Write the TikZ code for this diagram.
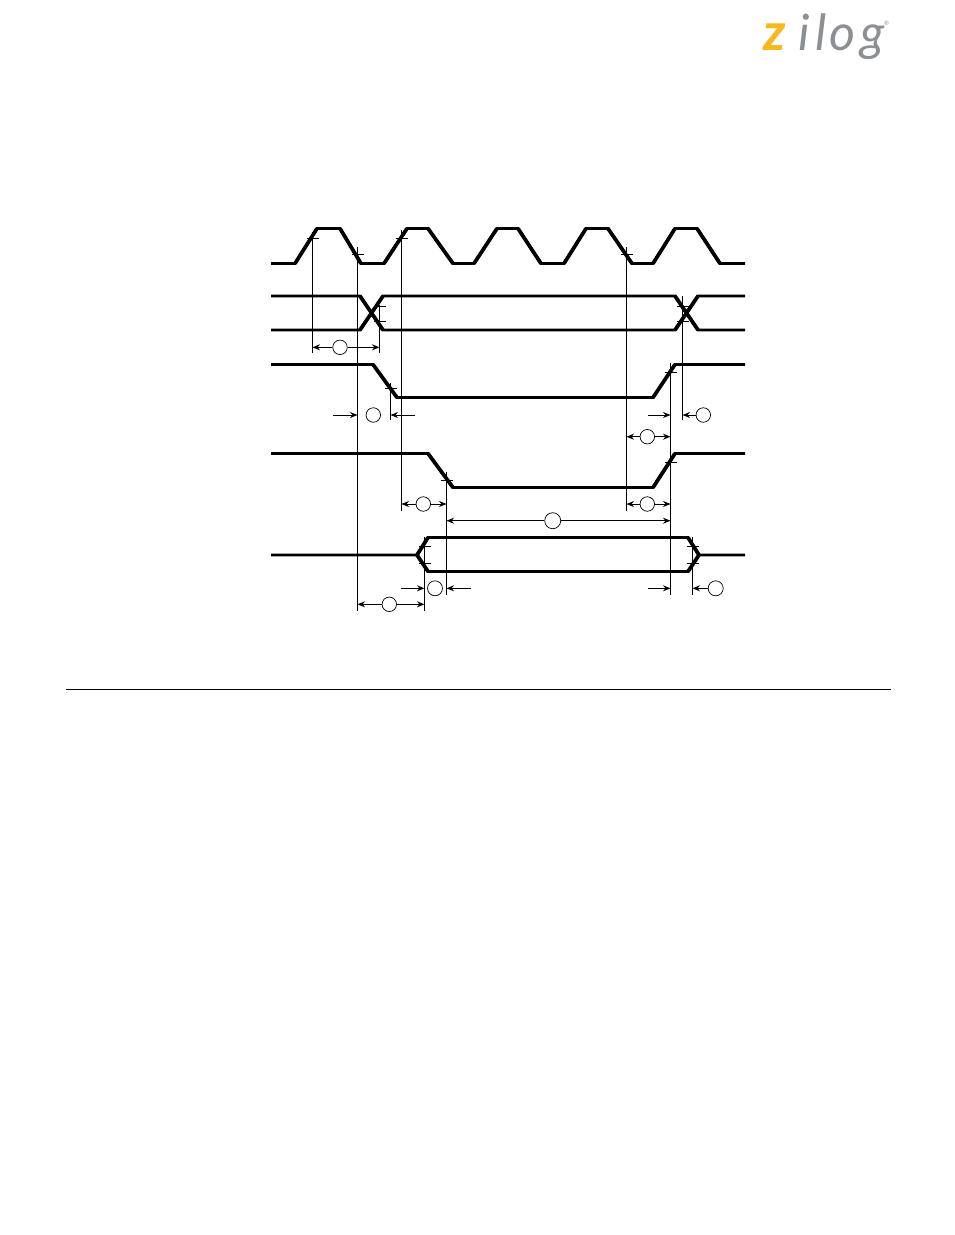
\documentclass[tikz,border=0pt]{standalone}
\usepackage{fontspec}
\setmainfont{Lato}
\usepackage{xcolor}
\usetikzlibrary{arrows.meta}
\definecolor{zilogyellow}{HTML}{F9B81E}
\definecolor{ziloggray}{HTML}{8C8F93}
\tikzset{
  wave/.style={line width=2.8pt,line join=miter},
  slope/.style={line width=3.7pt},
  guide/.style={line width=1.4pt},
  tickmark/.style={line width=1pt},
  dim/.style={line width=0.9pt,-{Stealth[length=7.5pt,width=6pt]}},
  num/.style={draw,circle,line width=0.7pt,inner sep=0pt,minimum size=14.5pt},
  logotext/.style={text=ziloggray,font=\fontsize{50}{50}\selectfont\itshape,inner sep=0pt,anchor=base}
}
\begin{document}
\begin{tikzpicture}[x=1pt,y=-1pt]
  \useasboundingbox (0,0) rectangle (954,1235);

  % logo
  \node[logotext,text=zilogyellow,font=\fontsize{52}{52}\selectfont\bfseries\itshape] (logoz) at (775,50) {z};
  \node[logotext] (logoi) at (804,50) {i};
  \node[logotext] (logol) at (821,50) {l};
  \node[logotext] (logoo) at (842,50) {o};
  \node[logotext] (logog) at (873,50) {g};
  \node[text=ziloggray,font=\fontsize{6}{6}\selectfont,inner sep=0pt] (logor) at (886.5,23) {\textregistered};

  % clock
  \draw[wave] (271,263.5) -- (295,263.5) -- (317,228.5) -- (340,228.5) -- (361,263.5)
    -- (384,263.5) -- (407,228.5) -- (428,228.5) -- (453,263.5)
    -- (474,263.5) -- (497,228.5) -- (518,228.5) -- (541,263.5)
    -- (564,263.5) -- (586,228.5) -- (608,228.5) -- (632,263.5)
    -- (653,263.5) -- (675,228.5) -- (697,228.5) -- (720,263.5) -- (745,263.5);
  \draw[slope] (295,263.5) -- (317,228.5) (340,228.5) -- (361,263.5)
    (384,263.5) -- (407,228.5) (428,228.5) -- (453,263.5)
    (474,263.5) -- (497,228.5) (518,228.5) -- (541,263.5)
    (564,263.5) -- (586,228.5) (608,228.5) -- (632,263.5)
    (653,263.5) -- (675,228.5) (697,228.5) -- (720,263.5);

  % bus
  \draw[wave] (271,296) -- (360,296) -- (383,330) -- (675,330) -- (698,296) -- (745,296);
  \draw[wave] (271,330) -- (360,330) -- (383,296) -- (675,296) -- (698,330) -- (745,330);
  \draw[slope] (360,296) -- (383,330) (360,330) -- (383,296)
    (675,330) -- (698,296) (675,296) -- (698,330);

  % strobes
  \draw[wave] (271,364.5) -- (373,364.5) -- (397,397.5) -- (653,397.5) -- (675,364.5) -- (745,364.5);
  \draw[wave] (271,453.5) -- (428,453.5) -- (453,487.5) -- (653,487.5) -- (675,453.5) -- (745,453.5);
  \draw[slope] (373,364.5) -- (397,397.5) (653,397.5) -- (675,364.5)
    (428,453.5) -- (453,487.5) (653,487.5) -- (675,453.5);

  % data
  \draw[wave] (271,555) -- (417,555) -- (428,537.5) -- (688,537.5) -- (699,555) -- (745,555);
  \draw[wave] (417,555) -- (428,571.5) -- (688,571.5) -- (699,555);
  \draw[slope] (417,555) -- (428,537.5) (688,537.5) -- (699,555)
    (417,555) -- (428,571.5) (688,571.5) -- (699,555);

  % guide lines
  \coordinate (ga) at (312.5,232);   \coordinate (gae) at (312.5,353);
  \coordinate (gb) at (357.5,247);   \coordinate (gbe) at (357.5,611);
  \coordinate (gc) at (401.5,230);   \coordinate (gce) at (401.5,511);
  \coordinate (gd) at (379.5,305);   \coordinate (gde) at (379.5,353);
  \coordinate (ge) at (390.5,383);   \coordinate (gee) at (390.5,420);
  \coordinate (gf) at (626.5,247);   \coordinate (gfe) at (626.5,511);
  \coordinate (gg) at (682.5,296);   \coordinate (gge) at (682.5,420);
  \coordinate (gh) at (670.5,363);   \coordinate (ghe) at (670.5,595);
  \coordinate (gi) at (446.5,472);   \coordinate (gie) at (446.5,595);
  \coordinate (gj) at (424.5,537);   \coordinate (gje) at (424.5,611);
  \coordinate (gk) at (692.5,537);   \coordinate (gke) at (692.5,595);
  \draw[guide] (ga) -- (gae);
  \draw[guide] (gb) -- (gbe);
  \draw[guide] (gc) -- (gce);
  \draw[guide] (gd) -- (gde);
  \draw[guide] (ge) -- (gee);
  \draw[guide] (gf) -- (gfe);
  \draw[guide] (gg) -- (gge);
  \draw[guide] (gh) -- (ghe);
  \draw[guide] (gi) -- (gie);
  \draw[guide] (gj) -- (gje);
  \draw[guide] (gk) -- (gke);

  % crossing marks
  \draw[tickmark] (306.5,238.5) -- ++(12,0) (351.5,254.5) -- ++(12,0) (395.5,238.5) -- ++(12,0)
    (373.5,306) -- ++(12,0) (373.5,321.5) -- ++(12,0) (384.5,388) -- ++(12,0)
    (620.5,254.5) -- ++(12,0) (676.5,306) -- ++(12,0) (676.5,321.5) -- ++(12,0)
    (664.5,372.5) -- ++(12,0) (440.5,480) -- ++(12,0) (664.5,462) -- ++(12,0)
    (418.5,546) -- ++(12,0) (418.5,563) -- ++(12,0) (686.5,546) -- ++(12,0) (686.5,563) -- ++(12,0);

  % numbered circles
  \node[num] (na) at (340,347.3) {};
  \node[num] (nb) at (373.3,415) {};
  \node[num] (nc) at (703.3,415) {};
  \node[num] (nd) at (647.3,436.7) {};
  \node[num] (ne) at (647.3,504) {};
  \node[num] (nf) at (423.3,504) {};
  \node[num,minimum size=16pt] (ng) at (552.7,520.7) {};
  \node[num,minimum size=15pt] (nh) at (435,588.3) {};
  \node[num,minimum size=15pt] (ni) at (715.7,588.3) {};
  \node[num] (nj) at (389.3,604.3) {};

  % dimension arrows
  \draw[dim] (na) -- (na -| ga);
  \draw[dim] (na) -- (na -| gd);
  \coordinate (bl) at (333,415);
  \coordinate (br) at (415,415);
  \draw[dim] (bl) -- (bl -| gb);
  \draw[dim] (br) -- (br -| ge);
  \coordinate (cl) at (648,415);
  \draw[dim] (cl) -- (cl -| gh);
  \draw[dim] (nc) -- (nc -| gg);
  \draw[dim] (nd) -- (nd -| gf);
  \draw[dim] (nd) -- (nd -| gh);
  \draw[dim] (ne) -- (ne -| gf);
  \draw[dim] (ne) -- (ne -| gh);
  \draw[dim] (nf) -- (nf -| gc);
  \draw[dim] (nf) -- (nf -| gi);
  \draw[dim] (ng) -- (ng -| gi);
  \draw[dim] (ng) -- (ng -| gh);
  \coordinate (hl) at (400.7,588.3);
  \coordinate (hr) at (470.7,588.3);
  \draw[dim] (hl) -- (hl -| gj);
  \draw[dim] (hr) -- (hr -| gi);
  \coordinate (il) at (648,588.3);
  \draw[dim] (il) -- (il -| gh);
  \draw[dim] (ni) -- (ni -| gk);
  \draw[dim] (nj) -- (nj -| gb);
  \draw[dim] (nj) -- (nj -| gj);

  % rule
  \coordinate (rl) at (66,689);
  \coordinate (rr) at (891,689);
  \draw[line width=0.8pt] (rl) -- (rr);
\end{tikzpicture}
\end{document}
